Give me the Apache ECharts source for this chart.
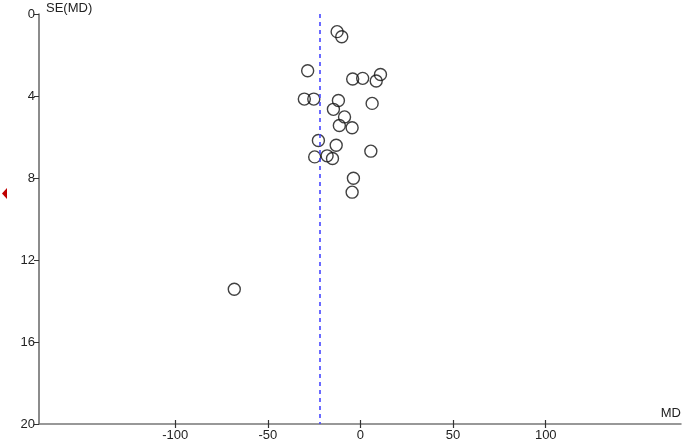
<!DOCTYPE html>
<html>
<head>
<meta charset="utf-8">
<script src="https://cdn.jsdelivr.net/npm/echarts@6/dist/echarts.min.js"></script>
<style>
    html, body { margin: 0; padding: 0; background: #fff; }
    #funnelChart { width: 685px; height: 445px; }
</style>
</head>
<body>
<div id="funnelChart"></div>
<script>
    // 各研究的效应量 MD 及其标准误 SE(MD)
    var mdValues = [-12.6, -10.1, -28.5, -4.2, 1.2, 10.8, 8.5, -30.3, -25.2, -11.9, 6.3, -14.6,
        -8.6, -11.4, -4.5, -22.7, -13.1, 5.6, -24.7, -18.0, -15.1, -3.8, -4.5, -68.1];
    var seValues = [0.86, 1.11, 2.77, 3.17, 3.14, 2.95, 3.27, 4.15, 4.15, 4.22, 4.36, 4.65,
        5.02, 5.44, 5.55, 6.17, 6.40, 6.69, 6.97, 6.92, 7.05, 8.01, 8.69, 13.43];
    // 合并效应量（虚线位置）
    var pooledMD = -22.2;
    // 坐标轴刻度
    var xTicks = [-100, -50, 0, 50, 100];
    var yTicks = [0, 4, 8, 12, 16, 20];

    var points = [];
    for (var i = 0; i < mdValues.length; i++) {
        points.push([mdValues[i], seValues[i]]);
    }

    var funnelChart = echarts.init(document.getElementById('funnelChart'));
    var labelFont = { fontFamily: 'Liberation Sans, Arial, sans-serif', fontSize: 13, color: '#222' };

    funnelChart.setOption({
        animation: false,
        grid: { left: 39, right: 4, top: 14, bottom: 21 },
        xAxis: [
            {
                type: 'value',
                min: -173.5,
                max: 173,
                name: 'MD',
                nameLocation: 'end',
                nameGap: 0,
                nameTextStyle: Object.assign({}, labelFont, {
                    align: 'right', verticalAlign: 'bottom', padding: [0, 0, 4, 0]
                }),
                axisLine: { onZero: false, lineStyle: { color: '#777', width: 1.5 } },
                axisTick: { length: 4, customValues: xTicks, lineStyle: { color: '#333', width: 1.2 } },
                axisLabel: Object.assign({}, labelFont, { customValues: xTicks, margin: 5 }),
                splitLine: { show: false }
            },
            {
                // 只用来画刻度线向上的半段
                type: 'value',
                position: 'bottom',
                min: -173.5,
                max: 173,
                axisLine: { show: false, onZero: false },
                axisTick: { show: true, inside: true, length: 4, customValues: xTicks, lineStyle: { color: '#333', width: 1.2 } },
                axisLabel: { show: false },
                splitLine: { show: false }
            }
        ],
        yAxis: {
            type: 'value',
            inverse: true,
            min: 0,
            max: 20,
            name: 'SE(MD)',
            nameLocation: 'start',
            nameGap: 6,
            nameTextStyle: Object.assign({}, labelFont, {
                align: 'left', verticalAlign: 'middle', padding: [0, 0, 0, 7]
            }),
            axisLine: { show: true, onZero: false, lineStyle: { color: '#666', width: 1.5 } },
            axisTick: { show: true, length: 5, customValues: yTicks, lineStyle: { color: '#333' } },
            axisLabel: Object.assign({}, labelFont, { customValues: yTicks, margin: 4 }),
            splitLine: { show: false }
        },
        series: [
            {
                name: 'studies',
                type: 'scatter',
                xAxisIndex: 0,
                symbol: 'circle',
                symbolSize: 12,
                itemStyle: { color: 'rgba(255,255,255,0)', borderColor: '#111', borderWidth: 1.4 },
                data: points,
                markLine: {
                    silent: true,
                    symbol: 'none',
                    label: { show: false },
                    lineStyle: { color: '#4646ff', type: [4, 4], width: 1.6 },
                    data: [{ xAxis: pooledMD }]
                }
            }
        ],
        graphic: [
            {
                type: 'polygon',
                shape: { points: [[7, 188], [7, 199], [2, 193.5]] },
                style: { fill: '#c00000' }
            }
        ]
    });
</script>
</body>
</html>
